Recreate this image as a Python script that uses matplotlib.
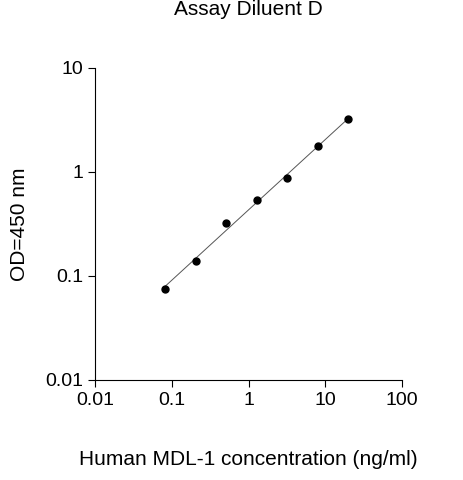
import numpy as np
import matplotlib
matplotlib.use("Agg")
import matplotlib.pyplot as plt

conc = [0.082, 0.205, 0.512, 1.28, 3.2, 8.0, 20.0]
od = [0.075, 0.14, 0.32, 0.54, 0.875, 1.78, 3.2]

plt.rcParams['font.family'] = ['Liberation Sans', 'DejaVu Sans']
fig = plt.figure(figsize=(4.63, 4.80), dpi=100)
ax = fig.add_axes([95/463, 1-380/480, 307/463, 312/480])
ax.set_xscale('log'); ax.set_yscale('log')
ax.set_xlim(0.01, 100); ax.set_ylim(0.01, 10)

lx = np.log10(conc); ly = np.log10(od)
b, a = np.polyfit(lx, ly, 1)
xs = np.array([lx[0], lx[-1]])
ax.plot(10**xs, 10**(a + b*xs), color='#555555', lw=0.7)
ax.plot(conc, od, 'o', color='black', ms=5)

ax.set_xticks([0.01, 0.1, 1, 10, 100]); ax.set_xticklabels(['0.01', '0.1', '1', '10', '100'])
ax.set_yticks([0.01, 0.1, 1, 10]); ax.set_yticklabels(['0.01', '0.1', '1', '10'])
ax.minorticks_off()
ax.tick_params(direction='out', labelsize=14, length=5)
for s in ['top', 'right']:
    ax.spines[s].set_visible(False)
ax.set_xlabel('Human MDL-1 concentration (ng/ml)', fontsize=15, labelpad=30)
ax.set_ylabel('OD=450 nm', fontsize=15, labelpad=12)
ax.set_title('Assay Diluent D', fontsize=15, pad=38)
fig.savefig('out.png', dpi=100)
